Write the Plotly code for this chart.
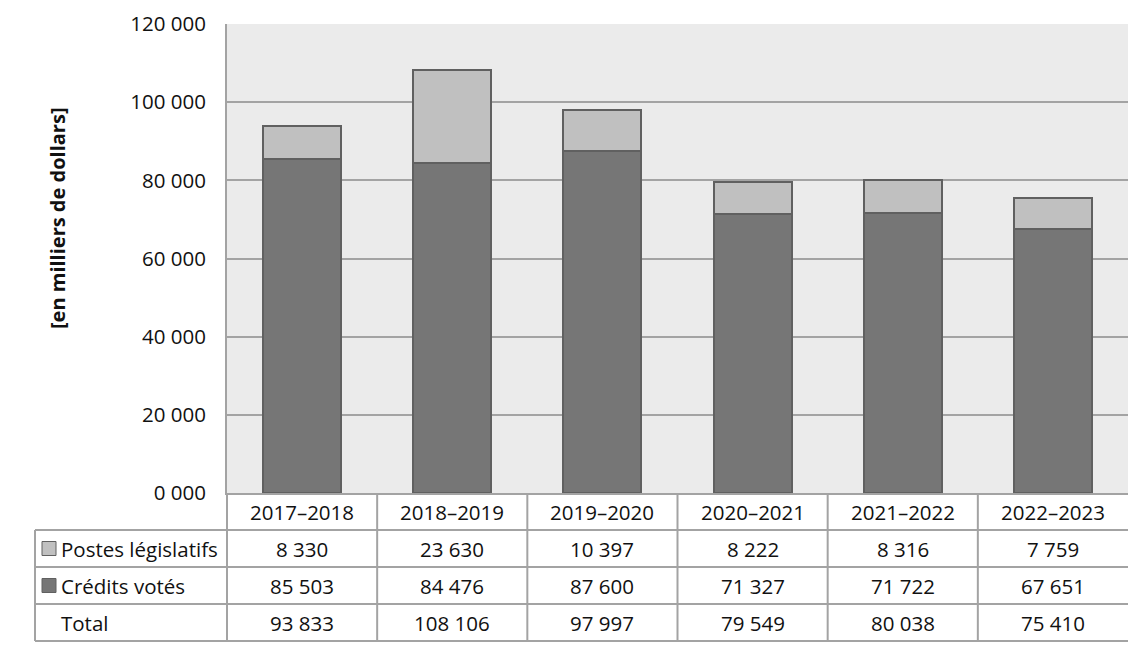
import plotly.graph_objects as go

categories = ["2017–2018", "2018–2019", "2019–2020", "2020–2021", "2021–2022", "2022–2023"]
postes_legislatifs = [8330, 23630, 10397, 8222, 8316, 7759]
credits_votes = [85503, 84476, 87600, 71327, 71722, 67651]
totals = [93833, 108106, 97997, 79549, 80038, 75410]
series_names = ["Postes législatifs", "Crédits votés", "Total"]
y_ticks = [0, 20000, 40000, 60000, 80000, 100000, 120000]
y_ticktext = ["0 000", "20 000", "40 000", "60 000", "80 000", "100 000", "120 000"]

W, H = 1128, 651
L, R, T, B = 227, 1128, 24, 493  # target pixel positions in the window
FONT = "Open Sans"
FS = 20.5
LINE = "#a3a3a3"
DARK = "#767676"
LIGHT = "#c0c0c0"
EDGE = "#606060"
TXT = "#111111"


def px(x):
    return (x - L) / (R - L)


def py(y):
    return (B - y) / (B - T)


def fmt(v):
    return f"{v:,}".replace(",", " ")


fig = go.Figure()
fig.add_trace(go.Bar(x=categories, y=credits_votes, name=series_names[1],
                     marker=dict(color=DARK, line=dict(color=EDGE, width=2))))
fig.add_trace(go.Bar(x=categories, y=postes_legislatifs, name=series_names[0],
                     marker=dict(color=LIGHT, line=dict(color=EDGE, width=2))))

shapes = []
annotations = []

row_tops = [493, 530, 567, 604, 641]
col_edges = [L + i * (R - L) / 6 for i in range(7)]
left_edge = 35

for y in row_tops[1:]:
    shapes.append(dict(type="line", xref="paper", yref="paper", x0=px(left_edge), x1=px(R),
                       y0=py(y), y1=py(y), line=dict(color=LINE, width=2)))
for x in col_edges[:-1]:
    shapes.append(dict(type="line", xref="paper", yref="paper", x0=px(x), x1=px(x),
                       y0=py(B), y1=py(641), line=dict(color=LINE, width=2)))
shapes.append(dict(type="line", xref="paper", yref="paper", x0=px(left_edge), x1=px(left_edge),
                   y0=py(530), y1=py(641), line=dict(color=LINE, width=2)))

for i, c in enumerate(categories):
    xc = (col_edges[i] + col_edges[i + 1]) / 2
    annotations.append(dict(x=px(xc), y=py(511.5), xref="paper", yref="paper", text=c,
                            showarrow=False, font=dict(size=FS, color=TXT, family=FONT),
                            xanchor="center", yanchor="middle"))

rows = [postes_legislatifs, credits_votes, totals]
swatch = [LIGHT, DARK, None]
for r, vals in enumerate(rows):
    yc = (row_tops[r + 1] + row_tops[r + 2]) / 2
    annotations.append(dict(x=px(59), y=py(yc), xref="paper", yref="paper", text=series_names[r],
                            showarrow=False, font=dict(size=FS, color=TXT, family=FONT),
                            xanchor="left", yanchor="middle"))
    if swatch[r]:
        shapes.append(dict(type="rect", xref="paper", yref="paper", x0=px(42), x1=px(56),
                           y0=py(yc - 7), y1=py(yc + 7), fillcolor=swatch[r],
                           line=dict(color=EDGE, width=1)))
    for i, v in enumerate(vals):
        xc = (col_edges[i] + col_edges[i + 1]) / 2
        annotations.append(dict(x=px(xc), y=py(yc), xref="paper", yref="paper", text=fmt(v),
                                showarrow=False, font=dict(size=FS, color=TXT, family=FONT),
                                xanchor="center", yanchor="middle"))

annotations.append(dict(x=px(57), y=py(218), xref="paper", yref="paper",
                        text="<b>[en milliers de dollars]</b>", textangle=-90, showarrow=False,
                        font=dict(size=20, color=TXT, family=FONT),
                        xanchor="center", yanchor="middle"))

fig.update_layout(
    width=W, height=H,
    margin=dict(l=L, r=W - R, t=T, b=H - B),
    barmode="stack", bargap=0.48,
    plot_bgcolor="#ebebeb", paper_bgcolor="white",
    showlegend=False,
    font=dict(family=FONT, size=FS, color=TXT),
    shapes=shapes, annotations=annotations,
)
fig.update_xaxes(range=[-0.5, 5.5], showticklabels=False, ticks="", showgrid=False,
                 showline=True, linecolor=LINE, linewidth=2, fixedrange=True)
fig.update_yaxes(range=[0, 120000], tickvals=y_ticks, ticktext=y_ticktext, showgrid=True,
                 gridcolor=LINE, gridwidth=2, showline=True, linecolor=LINE, linewidth=2,
                 zeroline=False, ticks="", ticklabelstandoff=15,
                 tickfont=dict(size=FS, family=FONT, color=TXT))

fig.write_html("out.html", config={"displayModeBar": False},
               post_script="document.body.style.margin='0';document.body.style.overflow='hidden';")
